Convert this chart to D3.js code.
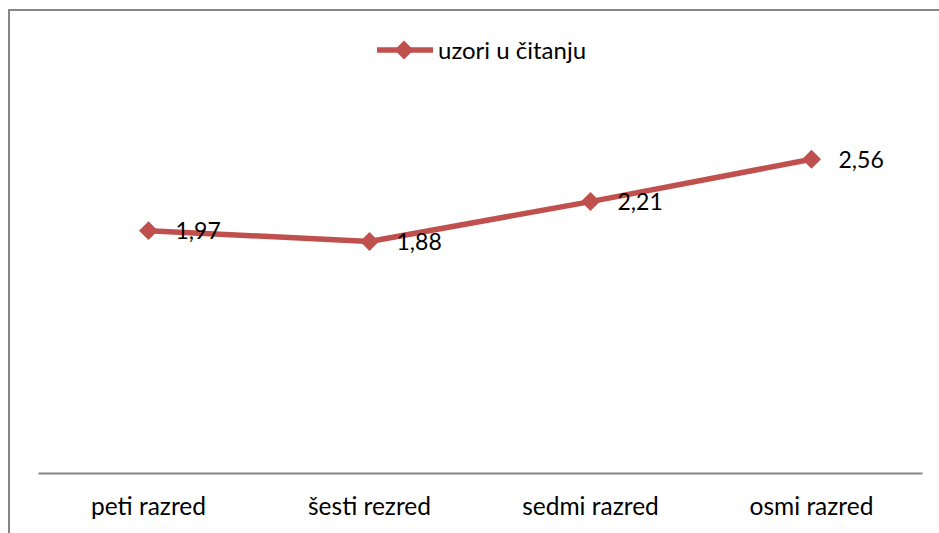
<!DOCTYPE html>
<html>
<head>
<meta charset="utf-8">
<script src="https://cdn.jsdelivr.net/npm/d3@7"></script>
<style>
  body { margin: 0; background: #fff; }
  svg { display: block; font-family: Lato, "Open Sans", sans-serif; }
</style>
</head>
<body>
<div id="chart"></div>
<script>
const categories = ["peti razred", "šesti rezred", "sedmi razred", "osmi razred"];
const values = [1.97, 1.88, 2.21, 2.56];
const seriesName = "uzori u čitanju";

const width = 939;
const height = 533;
const margin = { top: 106, right: 17, bottom: 60, left: 38 };
const color = "#c0504d";

const fmt = d3.formatLocale({ decimal: ",", thousands: ".", grouping: [3], currency: ["", ""] }).format(".2f");

const svg = d3.select("#chart")
  .append("svg")
    .attr("width", width)
    .attr("height", height);

// chart frame (runs off the right and bottom edges)
svg.append("rect")
  .attr("x", 9)
  .attr("y", 10)
  .attr("width", width + 10)
  .attr("height", height + 10)
  .attr("fill", "none")
  .attr("stroke", "#868686")
  .attr("stroke-width", 2);

const plotBottom = height - margin.bottom;

const x = d3.scaleBand()
  .domain(categories)
  .range([margin.left, width - margin.right])
  .padding(0);

const y = d3.scaleLinear()
  .domain([0, 3])
  .range([plotBottom - 4, margin.top]);

// category axis
const xAxis = svg.append("g")
  .attr("transform", `translate(0,${plotBottom})`)
  .call(d3.axisBottom(x).tickSize(0).tickPadding(25).tickSizeOuter(0));

xAxis.select(".domain")
  .attr("stroke", "#868686")
  .attr("stroke-width", 2);

xAxis.selectAll("text")
  .attr("fill", "#000")
  .attr("font-size", 24.5)
  .attr("font-family", "Lato, 'Open Sans', sans-serif");

const cx = d => x(d) + x.bandwidth() / 2;

const line = d3.line()
  .x((d, i) => cx(categories[i]))
  .y(d => y(d));

svg.append("path")
  .datum(values)
  .attr("fill", "none")
  .attr("stroke", color)
  .attr("stroke-width", 5.5)
  .attr("stroke-linejoin", "round")
  .attr("d", line);

const diamond = d3.symbol().type(d3.symbolSquare).size(180);

svg.selectAll(".marker")
  .data(values)
  .enter().append("path")
    .attr("class", "marker")
    .attr("d", diamond)
    .attr("fill", color)
    .attr("transform", (d, i) => `translate(${cx(categories[i])},${y(d)}) rotate(45)`);

svg.selectAll(".desc-text")
  .data(values)
  .enter().append("text")
    .attr("class", "desc-text")
    .attr("x", (d, i) => cx(categories[i]) + 27)
    .attr("y", d => y(d))
    .attr("dy", "0.38em")
    .attr("font-size", 23)
    .attr("fill", "#000")
    .text(d => fmt(d));

// legend
const legend = svg.append("g")
  .attr("transform", "translate(377,50)");

legend.append("line")
  .attr("x1", 0)
  .attr("x2", 56)
  .attr("stroke", color)
  .attr("stroke-width", 5.5);

legend.append("path")
  .attr("d", diamond)
  .attr("fill", color)
  .attr("transform", "translate(27,0) rotate(45)");

legend.append("text")
  .attr("x", 61)
  .attr("dy", "0.36em")
  .attr("font-size", 24)
  .attr("fill", "#000")
  .text(seriesName);
</script>
</body>
</html>
